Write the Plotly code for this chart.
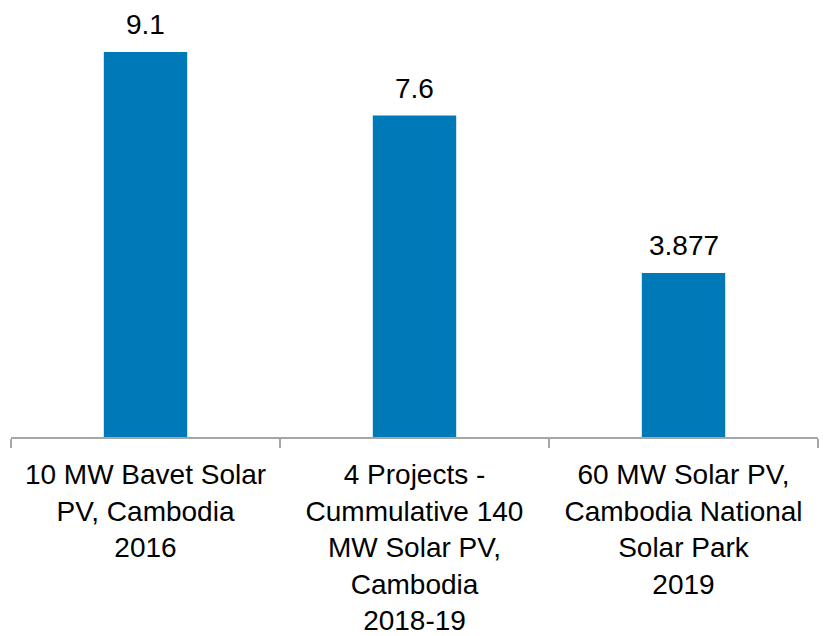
import plotly.graph_objects as go

categories = [
    "10 MW Bavet Solar<br>PV, Cambodia<br>2016",
    "4 Projects -<br>Cummulative 140<br>MW Solar PV,<br>Cambodia<br>2018-19",
    "60 MW Solar PV,<br>Cambodia National<br>Solar Park<br>2019",
]
values = [9.1, 7.6, 3.877]
value_labels = ["9.1", "7.6", "3.877"]

BAR_COLOR = "#0079B9"
FONT = "Liberation Sans, Arial, sans-serif"

fig = go.Figure()
fig.add_trace(go.Bar(
    x=categories,
    y=values,
    marker=dict(color=BAR_COLOR, line=dict(width=0)),
    width=0.31,
    hoverinfo="skip",
))

for c, v, t in zip(categories, values, value_labels):
    fig.add_annotation(
        x=c, y=v, text=t, showarrow=False,
        yanchor="bottom", yshift=10,
        font=dict(family=FONT, size=28, color="#000000"),
    )

fig.update_layout(
    width=825, height=636,
    margin=dict(l=11, r=7, t=14, b=199),
    paper_bgcolor="white",
    plot_bgcolor="white",
    showlegend=False,
    font=dict(family=FONT, size=28, color="#000000"),
    xaxis=dict(
        type="category",
        automargin=False,
        showline=True, linecolor="#A6A6A6", linewidth=1.5,
        ticks="outside", tickson="boundaries", ticklen=9,
        tickcolor="#A6A6A6", tickwidth=1.5,
        ticklabelstandoff=12,
        tickfont=dict(family=FONT, size=28, color="#000000"),
        showgrid=False, zeroline=False,
    ),
    yaxis=dict(
        visible=False, range=[0, 10], showgrid=False, zeroline=False,
        automargin=False,
    ),
)

fig.write_html(
    "out.html",
    config={"displayModeBar": False},
    post_script="document.body.style.margin='0';document.body.style.padding='0';",
)
